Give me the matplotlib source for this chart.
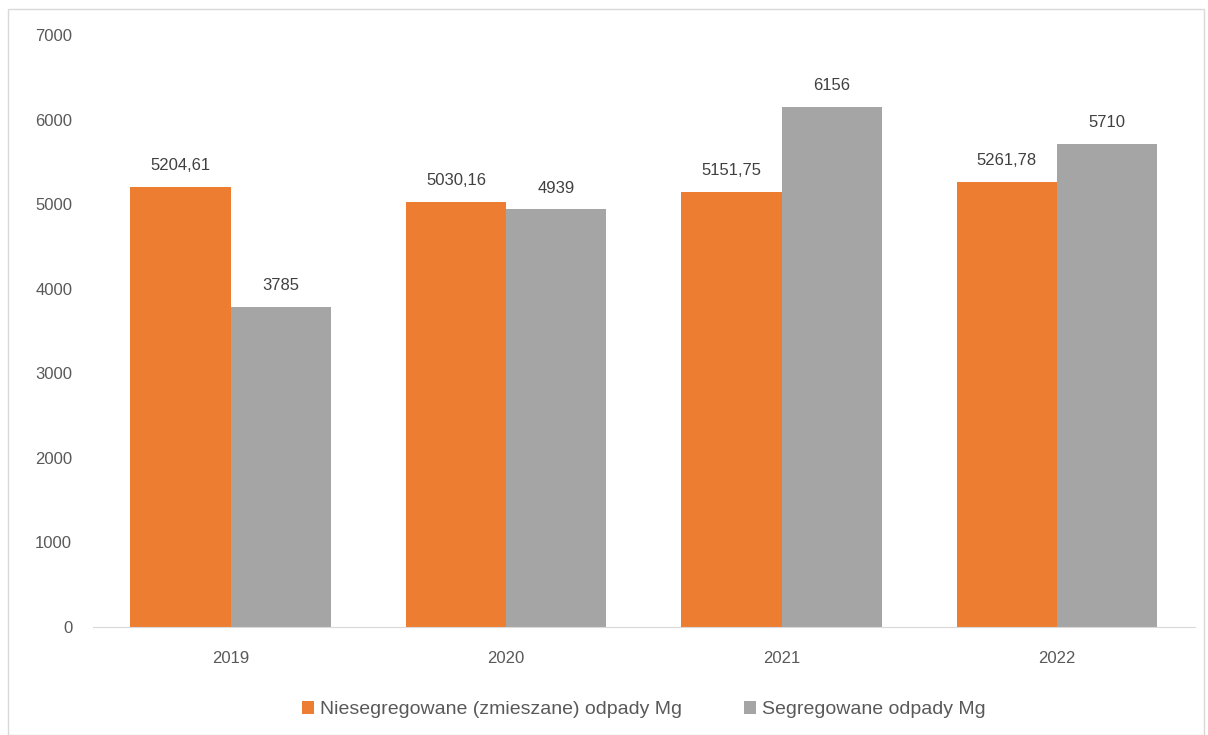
import matplotlib.pyplot as plt
import numpy as np
from matplotlib.patches import Rectangle

years = ["2019", "2020", "2021", "2022"]
mixed = [5204.61, 5030.16, 5151.75, 5261.78]
sorted_waste = [3785, 4939, 6156, 5710]
mixed_labels = ["5204,61", "5030,16", "5151,75", "5261,78"]
sorted_labels = ["3785", "4939", "6156", "5710"]
yticks = [0, 1000, 2000, 3000, 4000, 5000, 6000, 7000]

txt = "#595959"
plt.rcParams['font.family'] = ['Liberation Sans', 'DejaVu Sans']

fig = plt.figure(figsize=(12.08, 7.35), dpi=100)
ax = fig.add_axes([0.077, 0.147, 0.912, 0.805])

x = np.arange(len(years))
w = 0.364
b1 = ax.bar(x - w / 2, mixed, w, color="#ED7D31", label="Niesegregowane (zmieszane) odpady Mg")
b2 = ax.bar(x + w / 2, sorted_waste, w, color="#A5A5A5", label="Segregowane odpady Mg")

for rect, lab in zip(b1, mixed_labels):
    ax.annotate(lab, (rect.get_x() + rect.get_width() / 2, rect.get_height()),
                xytext=(0, 10), textcoords="offset points", ha="center", va="bottom",
                fontsize=12, color="#404040")
for rect, lab in zip(b2, sorted_labels):
    ax.annotate(lab, (rect.get_x() + rect.get_width() / 2, rect.get_height()),
                xytext=(0, 10), textcoords="offset points", ha="center", va="bottom",
                fontsize=12, color="#404040")

ax.set_xlim(-0.5, 3.5)
ax.set_ylim(0, 7000)
ax.set_yticks(yticks)
ax.set_yticklabels([str(v) for v in yticks])
ax.set_xticks(x)
ax.set_xticklabels(years)
ax.tick_params(axis="both", length=0, labelsize=12, labelcolor=txt)
ax.tick_params(axis="y", pad=15)
ax.tick_params(axis="x", pad=17)
for s in ["top", "right", "left"]:
    ax.spines[s].set_visible(False)
ax.spines["bottom"].set_color("#D9D9D9")

ax.legend(loc="upper center", bbox_to_anchor=(0.5, -0.095), ncol=2, frameon=False,
          fontsize=14, labelcolor=txt, handlelength=0.6, handleheight=0.7,
          handletextpad=0.3, columnspacing=3.2)

fig.patches.append(Rectangle((8 / 1208, 0.0), 1 - 12 / 1208, 1 - 9 / 735,
                             transform=fig.transFigure, fill=False,
                             edgecolor="#D9D9D9", linewidth=1))

fig.savefig("out.png", dpi=100)
